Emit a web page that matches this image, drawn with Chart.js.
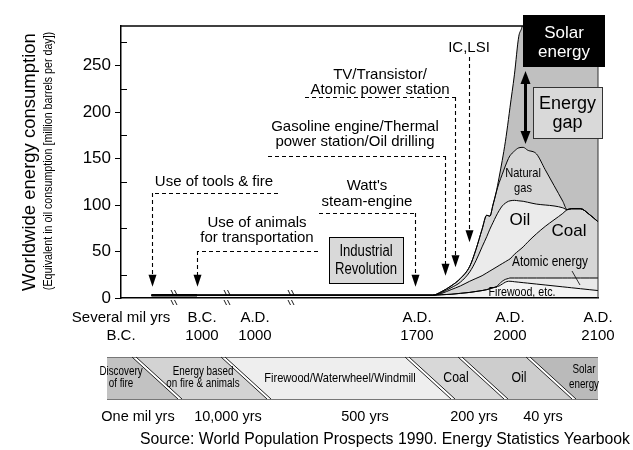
<!DOCTYPE html>
<html>
<head>
<meta charset="utf-8">
<script src="https://cdn.jsdelivr.net/npm/chart.js@4.4.1/dist/chart.umd.min.js"></script>
<style>
  html, body { margin: 0; padding: 0; background: #fff; }
</style>
</head>
<body>
<canvas id="energyChart" width="633" height="450"></canvas>
<script>
// ---- data (million barrels per day, oil equivalent) ----
const years = [-1800000, -10000, 1000, 1700, 1750, 1780, 1810, 1840, 1870, 1890, 1910, 1925, 1935, 1945, 1955,
  1965, 1975, 1985, 1995, 2000, 2005, 2010, 2015, 2020, 2030, 2040, 2050, 2060, 2065, 2070, 2080, 2090, 2100];

const firewood = [3, 3, 3, 3, 3, 3.5, 4, 5, 6, 7, 8, 9, 10, 11, 12,
  13, 15, 17, 18, 18, 17.5, 17, 16.5, 16, 15, 14, 13, 12, 11.5, 11, 10, 9, 8];
const atomic = [0, 0, 0, 0, 0, 0, 0, 0, 0, 0, 0, 0, 0, 0, 0,
  2, 3, 3, 3, 3.5, 4, 4.5, 5, 5.5, 6.5, 7.5, 8.5, 9.5, 10, 10.5, 11.5, 12.5, 13.5];
const coal = [0, 0, 0, 0, 0, 1.5, 5, 8, 12, 14, 16, 18, 19, 20, 21,
  20, 19, 19, 20, 20.5, 25.5, 29.5, 33.5, 38.5, 47.5, 55.5, 62.5, 69.5, 73.5, 74.5, 74.5, 68.5, 60.5];
const oil = [0, 0, 0, 0, 0, 1, 2, 4, 10, 19, 31, 39, 45, 50, 55,
  59, 62, 63, 63, 62.5, 58, 53.5, 49, 43, 32, 23, 15, 6, 0, 0, 0, 0, 0];
const naturalGas = [0, 0, 0, 0, 0, 1, 2, 4, 6, 12, 19, 23, 14, 19, 25,
  30, 34, 40, 46, 48.5, 53, 57, 58, 56, 54, 38, 22, 7, 0, 0, 0, 0, 0];
// demand not covered by fossil/atomic supply (off the top of the chart after ~2015)
const energyGap = [0, 0, 0, 0, 0, 0, 0, 0, 0, 0, 0, 0, 0, 0, 0,
  6, 15, 26, 42, 52, 82, 120, 140, 250, 250, 250, 250, 250, 250, 250, 250, 250, 250];

const layerNames = ['Firewood, etc.', 'Atomic energy', 'Coal', 'Oil', 'Natural gas', 'Energy gap'];
const layerValues = [firewood, atomic, coal, oil, naturalGas, energyGap];
const layerColors = ['#f3f3f3', '#e9e9e9', '#d6d6d6', '#ebebeb', '#d6d6d6', '#c0c0c0'];

const tickYears = [-3000000, -1000, 1000, 1700, 2000, 2100];
const tickLabels = [['Several mil yrs', 'B.C.'], ['B.C.', '1000'], ['A.D.', '1000'],
  ['A.D.', '1700'], ['A.D.', '2000'], ['A.D.', '2100']];
const yTicks = [0, 50, 100, 150, 200, 250];
const yMinorTicks = [25, 75, 125, 175, 225, 275];

const eras = [['Discovery', 'of fire'], ['Energy based', 'on fire & animals'],
  ['Firewood/Waterwheel/Windmill'], ['Coal'], ['Oil'], ['Solar', 'energy']];
const eraSpans = ['One mil yrs', '10,000 yrs', '500 yrs', '200 yrs', '40 yrs'];

const events = [
  { lines: ['Use of tools & fire'], year: -1800000, tip: 12 },
  { lines: ['Use of animals', 'for transportation'], year: -10000, tip: 12 },
  { lines: ["Watt's", 'steam-engine'], year: 1690, tip: 12 },
  { lines: ['Gasoline engine/Thermal', 'power station/Oil drilling'], year: 1790, tip: 24 },
  { lines: ['TV/Transistor/', 'Atomic power station'], year: 1823, tip: 33 },
  { lines: ['IC,LSI'], year: 1868, tip: 60 }
];

// ---- broken time axis: anchor years and their place along the axis ----
const axisYears = [-3000000, -10000, -1000, 1000, 1700, 2000, 2100];
const axisPos = [0, 76, 81, 134, 296, 389, 477];
const axisBreaks = [52, 105, 169];

function toAxis(year) {
  for (let i = 1; i < axisYears.length; i++) {
    if (year <= axisYears[i]) {
      const t = (year - axisYears[i - 1]) / (axisYears[i] - axisYears[i - 1]);
      return axisPos[i - 1] + t * (axisPos[i] - axisPos[i - 1]);
    }
  }
  return axisPos[axisPos.length - 1];
}

// ---- layout of the annotations (pixels) ----
const eventLayout = [
  { cx: 214, ty: [182], ledgeY: 193, ledgeX: 278 },
  { cx: 257, ty: [223, 238], ledgeY: 251, ledgeX: 318 },
  { cx: 367, ty: [186, 202], ledgeY: 213, ledgeX: 319 },
  { cx: 355, ty: [127, 142], ledgeY: 156, ledgeX: 268 },
  { cx: 380, ty: [75, 90], ledgeY: 97, ledgeX: 305 },
  { cx: 469, ty: [48], ledgeY: 57, ledgeX: null }
];
const solarBox = { x: 523, y: 15, w: 82, h: 52 };
const gapBox = { x: 533, y: 87, w: 69, h: 51 };
const industrialBox = { x: 329, y: 237, w: 74, h: 46 };
const bar = { left: 107, right: 598, top: 357, bottom: 399, slant: 46, seps: [134, 223, 407, 460, 528] };
const eraText = [
  { x: 121, y: [372, 384], size: 12 }, { x: 203, y: [372, 384], size: 12 },
  { x: 340, y: [378], size: 13.5 }, { x: 456, y: [378], size: 15 },
  { x: 519, y: [378], size: 15 }, { x: 584, y: [370, 385], size: 12 }
];
const spanX = [138, 228, 365, 474, 543];

const FONT = '"Liberation Sans", Arial, Helvetica, sans-serif';

// narrow font check
const probe = document.createElement('canvas').getContext('2d');
probe.font = '20px "Liberation Sans Narrow", monospace';
const wNarrow = probe.measureText('abcdefghij').width;
probe.font = '20px monospace';
const hasNarrow = Math.abs(wNarrow - probe.measureText('abcdefghij').width) > 0.5;

function text(ctx, str, x, y, size, opt = {}) {
  ctx.save();
  ctx.fillStyle = opt.color || '#000';
  ctx.textAlign = opt.align || 'center';
  ctx.textBaseline = 'middle';
  ctx.translate(x, y);
  if (opt.rotate) ctx.rotate(opt.rotate);
  if (opt.narrow && hasNarrow) {
    ctx.font = size + 'px "Liberation Sans Narrow"';
  } else {
    ctx.font = size + 'px ' + FONT;
    if (opt.narrow) ctx.scale(0.82, 1);
  }
  ctx.fillText(str, 0, 0);
  ctx.restore();
}

function line(ctx, x1, y1, x2, y2) {
  ctx.beginPath();
  ctx.moveTo(x1, y1);
  ctx.lineTo(x2, y2);
  ctx.stroke();
}

function arrowHead(ctx, x, yTip, dir, w, len) {
  ctx.beginPath();
  ctx.moveTo(x - w / 2, yTip - dir * len);
  ctx.lineTo(x + w / 2, yTip - dir * len);
  ctx.lineTo(x, yTip);
  ctx.closePath();
  ctx.fill();
}

const decorPlugin = {
  id: 'decor',
  afterDraw(chart) {
    const { ctx, chartArea: a } = chart;
    const xs = chart.scales.x, ys = chart.scales.y;
    ctx.save();

    // frame pieces
    ctx.strokeStyle = '#000';
    ctx.lineWidth = 1.5;
    line(ctx, a.left, a.top, solarBox.x, a.top);
    ctx.lineWidth = 1;
    ctx.strokeStyle = '#333';
    line(ctx, a.right, solarBox.y + solarBox.h, a.right, a.bottom);

    // minor ticks inside
    ctx.strokeStyle = '#000';
    yMinorTicks.forEach(v => {
      const py = Math.round(ys.getPixelForValue(v)) + 0.5;
      line(ctx, a.left, py, a.left + 6, py);
    });

    // axis breaks
    ctx.lineWidth = 0.9;
    axisBreaks.forEach(p => {
      const px = xs.getPixelForValue(p);
      [0, 3.5].forEach(d => {
        line(ctx, px + d - 2, a.bottom - 8, px + d + 0.5, a.bottom - 3);
        line(ctx, px + d - 2, a.bottom + 2, px + d + 0.5, a.bottom + 7);
      });
    });

    // y axis titles
    text(ctx, 'Worldwide energy consumption', 30, 162, 18.5, { rotate: -Math.PI / 2 });
    text(ctx, '(Equivalent in oil consumption [million barrels per day])', 48, 161, 13,
      { rotate: -Math.PI / 2, narrow: true });

    // Industrial Revolution box
    ctx.fillStyle = '#d9d9d9';
    ctx.fillRect(industrialBox.x, industrialBox.y, industrialBox.w, industrialBox.h);
    ctx.strokeStyle = '#000';
    ctx.lineWidth = 1;
    ctx.strokeRect(industrialBox.x + 0.5, industrialBox.y + 0.5, industrialBox.w, industrialBox.h);
    text(ctx, 'Industrial', industrialBox.x + industrialBox.w / 2, 252, 16, { narrow: true });
    text(ctx, 'Revolution', industrialBox.x + industrialBox.w / 2, 270, 16, { narrow: true });

    // event annotations
    events.forEach((ev, i) => {
      const lay = eventLayout[i];
      const ax = Math.round(xs.getPixelForValue(toAxis(ev.year))) + 0.5;
      const tipY = ys.getPixelForValue(ev.tip);
      lay.ty.forEach((ty, k) => text(ctx, ev.lines[k], lay.cx, ty, 15));
      ctx.strokeStyle = '#000';
      ctx.lineWidth = 1.1;
      ctx.setLineDash([4, 3]);
      if (lay.ledgeX !== null) line(ctx, lay.ledgeX, lay.ledgeY + 0.5, ax, lay.ledgeY + 0.5);
      line(ctx, ax, lay.ledgeY, ax, tipY - 10);
      ctx.setLineDash([]);
      ctx.fillStyle = '#000';
      arrowHead(ctx, ax, tipY, 1, 8, 12);
    });

    // solar energy box
    ctx.fillStyle = '#000';
    ctx.fillRect(solarBox.x, solarBox.y, solarBox.w, solarBox.h);
    text(ctx, 'Solar', solarBox.x + 41, 33, 17, { color: '#fff' });
    text(ctx, 'energy', solarBox.x + 41, 52, 17, { color: '#fff' });

    // energy gap double arrow
    const arX = 525.5;
    ctx.strokeStyle = '#000';
    ctx.lineWidth = 3;
    line(ctx, arX, 82, arX, 133);
    ctx.fillStyle = '#000';
    arrowHead(ctx, arX, 71, -1, 10, 13);
    arrowHead(ctx, arX, 144, 1, 10, 13);

    // energy gap box
    ctx.fillStyle = '#d9d9d9';
    ctx.fillRect(gapBox.x, gapBox.y, gapBox.w, gapBox.h);
    ctx.strokeStyle = '#333';
    ctx.lineWidth = 1;
    ctx.strokeRect(gapBox.x + 0.5, gapBox.y + 0.5, gapBox.w, gapBox.h);
    text(ctx, 'Energy', gapBox.x + gapBox.w / 2, 104, 18);
    text(ctx, 'gap', gapBox.x + gapBox.w / 2, 123, 18);

    // layer labels
    text(ctx, 'Natural', 523, 173, 13.5, { narrow: true });
    text(ctx, 'gas', 523, 188, 13.5, { narrow: true });
    text(ctx, 'Oil', 520, 220, 17);
    text(ctx, 'Coal', 569, 231, 17);
    text(ctx, 'Atomic energy', 550, 262, 14.5, { narrow: true });
    text(ctx, 'Firewood, etc.', 522, 292, 13, { narrow: true });
    ctx.strokeStyle = '#000';
    ctx.lineWidth = 0.8;
    line(ctx, 572, 271, 580, 285);

    // era bar
    const n = eras.length;
    const gap = 2;
    for (let i = 0; i < n; i++) {
      const lt = i === 0 ? bar.left : bar.seps[i - 1] + gap;
      const lb = i === 0 ? bar.left : bar.seps[i - 1] + bar.slant + gap;
      const rt = i === n - 1 ? bar.right : bar.seps[i] - gap;
      const rb = i === n - 1 ? bar.right : bar.seps[i] + bar.slant - gap;
      ctx.fillStyle = ['#c2c2c2', '#d3d3d3', '#eeeeee', '#d8d8d8', '#cdcdcd', '#bababa'][i];
      ctx.beginPath();
      ctx.moveTo(lt, bar.top);
      ctx.lineTo(rt, bar.top);
      ctx.lineTo(rb, bar.bottom);
      ctx.lineTo(lb, bar.bottom);
      ctx.closePath();
      ctx.fill();
    }
    ctx.strokeStyle = '#777';
    ctx.lineWidth = 1;
    line(ctx, bar.left, bar.top + 0.5, bar.right, bar.top + 0.5);
    line(ctx, bar.left, bar.bottom + 0.5, bar.right, bar.bottom + 0.5);
    ctx.strokeStyle = '#222';
    bar.seps.forEach(s => {
      line(ctx, s - gap, bar.top, s + bar.slant - gap, bar.bottom);
      line(ctx, s + gap, bar.top, s + bar.slant + gap, bar.bottom);
    });
    eras.forEach((lines, i) => {
      const t = eraText[i];
      lines.forEach((str, k) => text(ctx, str, t.x, t.y[k], t.size, { narrow: true }));
    });
    eraSpans.forEach((str, i) => text(ctx, str, spanX[i], 417, 14.5));

    text(ctx, 'Source: World Population Prospects 1990. Energy Statistics Yearbook', 630, 440, 15.8,
      { align: 'right' });

    ctx.restore();
  }
};

const datasets = layerValues.map((vals, i) => ({
  label: layerNames[i],
  data: years.map((yr, k) => ({ x: toAxis(yr), y: vals[k] })),
  borderColor: '#000',
  borderWidth: 1,
  backgroundColor: layerColors[i],
  fill: i === 0 ? 'origin' : '-1',
  pointRadius: 0,
  cubicInterpolationMode: 'monotone',
  segment: i === 0 ? { borderWidth: c => (c.p1DataIndex <= 1 ? 2.5 : 1) } : undefined
}));

new Chart(document.getElementById('energyChart'), {
  type: 'line',
  data: { datasets },
  options: {
    responsive: false,
    animation: false,
    layout: { padding: { left: 0, top: 26, right: 35, bottom: 0 } },
    plugins: {
      legend: { display: false },
      tooltip: { enabled: false },
      filler: { drawTime: 'beforeDatasetsDraw' }
    },
    scales: {
      x: {
        type: 'linear',
        min: 0,
        max: axisPos[axisPos.length - 1],
        grid: { display: false, drawTicks: false },
        border: { display: true, color: '#000', width: 1.5, z: 1 },
        afterBuildTicks: s => { s.ticks = tickYears.map(y => ({ value: toAxis(y) })); },
        afterFit: s => { s.height = 152; },
        ticks: {
          autoSkip: false,
          maxRotation: 0,
          padding: 11,
          color: '#000',
          font: { family: FONT, size: 15 },
          callback: (v, i) => tickLabels[i]
        }
      },
      y: {
        stacked: true,
        min: 0,
        max: 292.5,
        grid: { display: true, drawOnChartArea: false, drawTicks: true, tickLength: 6, color: '#000' },
        border: { display: true, color: '#000', width: 1.5, z: 1 },
        afterBuildTicks: s => { s.ticks = yTicks.map(v => ({ value: v })); },
        afterFit: s => { s.width = 121; },
        ticks: { padding: 4, color: '#000', font: { family: FONT, size: 17 } }
      }
    }
  },
  plugins: [decorPlugin]
});
</script>
</body>
</html>
